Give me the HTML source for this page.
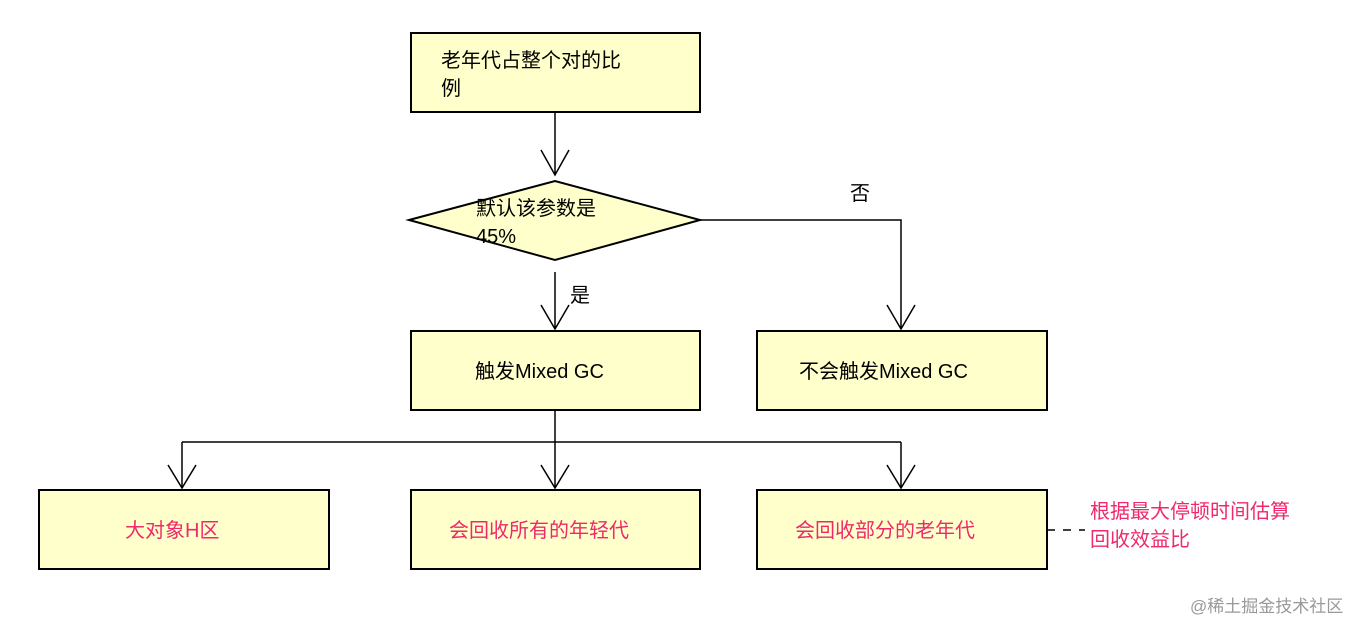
<!DOCTYPE html>
<html><head><meta charset="utf-8"><style>
body{margin:0;background:#fff;width:1372px;height:634px;overflow:hidden}
text{font-family:"Liberation Sans","Noto Sans CJK SC",sans-serif;font-size:20px}
</style></head><body>
<svg width="1372" height="634" xmlns="http://www.w3.org/2000/svg">
<g fill="#ffffcc" stroke="#000" stroke-width="2">
<rect x="411" y="33" width="289" height="79"/>
<polygon points="409,220 555,181 700,220 555,260"/>
<rect x="411" y="331" width="289" height="79"/>
<rect x="757" y="331" width="290" height="79"/>
<rect x="39" y="490" width="290" height="79"/>
<rect x="411" y="490" width="289" height="79"/>
<rect x="757" y="490" width="290" height="79"/>
</g>
<g stroke="#000" stroke-width="1.5" fill="none">
<path d="M555 112V175M541 150L555 175L569 150"/>
<path d="M555 272V329M541 305L555 329L569 305"/>
<path d="M700 220H901V329M887 305L901 329L915 305"/>
<path d="M555 410V442M182 442H901M182 442V488M555 442V488M901 442V488"/>
<path d="M168 465L182 488L196 465M541 465L555 488L569 465M887 465L901 488L915 465"/>
<path d="M1047 530H1085" stroke-dasharray="8 8"/>
</g>
<g fill="#000">
<text x="441" y="67">老年代占整个对的比</text>
<text x="441" y="95">例</text>
<text x="476" y="215">默认该参数是</text>
<text x="476" y="243">45%</text>
<text x="570" y="302">是</text>
<text x="850" y="200">否</text>
<text x="475" y="378">触发Mixed GC</text>
<text x="799" y="378">不会触发Mixed GC</text>
</g>
<g fill="#ee2a6a">
<text x="125" y="537">大对象H区</text>
<text x="449" y="537">会回收所有的年轻代</text>
<text x="795" y="537">会回收部分的老年代</text>
<text x="1090" y="518">根据最大停顿时间估算</text>
<text x="1090" y="546">回收效益比</text>
</g>
<text x="1190" y="612" fill="#999" style="font-size:17px">@稀土掘金技术社区</text>
</svg>
</body></html>
